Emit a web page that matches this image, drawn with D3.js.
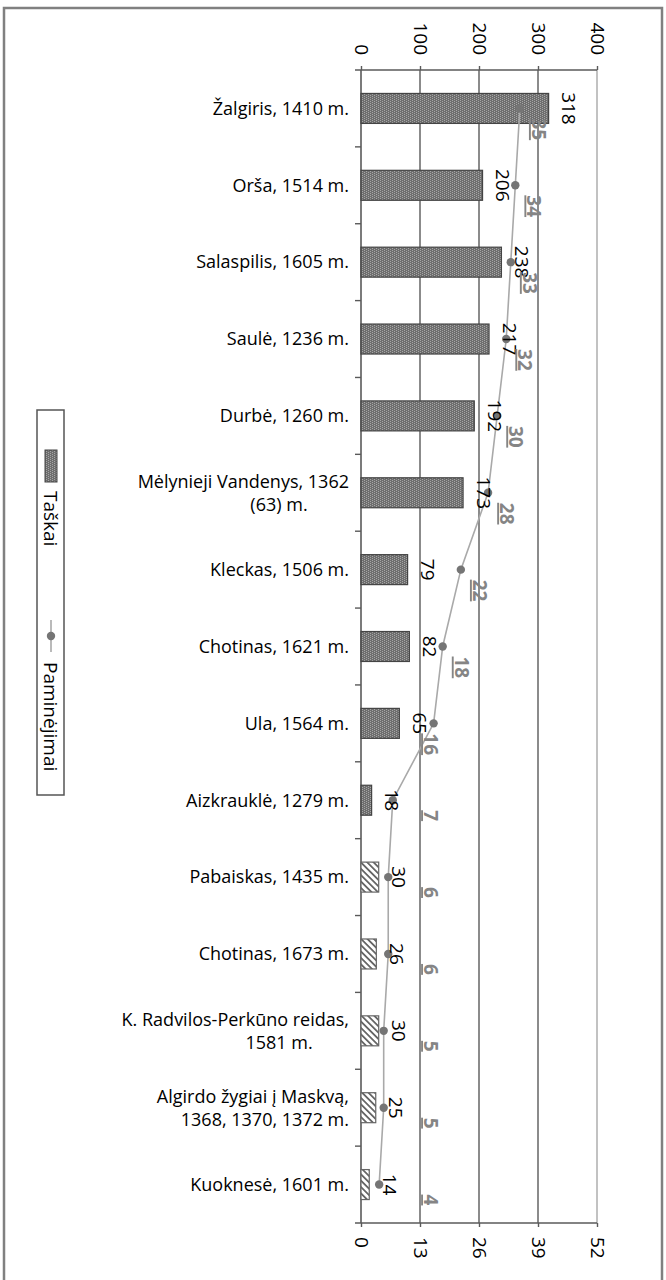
<!DOCTYPE html>
<html>
<head>
<meta charset="utf-8">
<script src="https://cdn.jsdelivr.net/npm/d3@7"></script>
<style>
    body { margin: 0; background: #fff; }
    text { font-family: 'Open Sans', sans-serif; }
</style>
</head>
<body>
<svg id="canvas"></svg>
<script>
let width = 666;
let height = 1280;

// data
const battles = [
    'Žalgiris, 1410 m.',
    'Orša, 1514 m.',
    'Salaspilis, 1605 m.',
    'Saulė, 1236 m.',
    'Durbė, 1260 m.',
    'Mėlynieji Vandenys, 1362|(63) m.',
    'Kleckas, 1506 m.',
    'Chotinas, 1621 m.',
    'Ula, 1564 m.',
    'Aizkrauklė, 1279 m.',
    'Pabaiskas, 1435 m.',
    'Chotinas, 1673 m.',
    'K. Radvilos-Perkūno reidas,|1581 m.',
    'Algirdo žygiai į Maskvą,|1368, 1370, 1372 m.',
    'Kuoknesė, 1601 m.',
];
const points = [318, 206, 238, 217, 192, 173, 79, 82, 65, 18, 30, 26, 30, 25, 14];
const mentions = [35, 34, 33, 32, 30, 28, 22, 18, 16, 7, 6, 6, 5, 5, 4];
// last five bars use the hatched fill
const hatched = [false, false, false, false, false, false, false, false, false, false, true, true, true, true, true];
const pointTicks = [0, 100, 200, 300, 400];
const mentionTicks = [0, 13, 26, 39, 52];
const legendNames = ['Taškai', 'Paminėjimai'];

let rows = battles.map((b, i) => ({
    name: b,
    points: points[i],
    mentions: mentions[i],
    hatched: hatched[i],
}));

let plotLeft = 361;
let plotRight = 597;
let plotTop = 70;
let plotBottom = 1223;

let canvas = d3.select('#canvas').attr('width', width).attr('height', height);

// patterns
let defs = canvas.append('defs');
let dots = defs
    .append('pattern')
    .attr('id', 'dots')
    .attr('patternUnits', 'userSpaceOnUse')
    .attr('width', 4)
    .attr('height', 2);
dots.append('rect').attr('width', 4).attr('height', 2).attr('fill', '#6e6e6e');
dots.append('rect').attr('x', 0).attr('y', 0).attr('width', 1).attr('height', 1).attr('fill', '#a6a6a6');
dots.append('rect').attr('x', 2).attr('y', 1).attr('width', 1).attr('height', 1).attr('fill', '#a6a6a6');

let hatch = defs
    .append('pattern')
    .attr('id', 'hatch')
    .attr('patternUnits', 'userSpaceOnUse')
    .attr('width', 4.5)
    .attr('height', 4.5)
    .attr('patternTransform', 'rotate(-45)');
hatch.append('rect').attr('width', 4.5).attr('height', 4.5).attr('fill', '#fff');
hatch.append('rect').attr('width', 1.8).attr('height', 4.5).attr('fill', '#666');

// outer frame
canvas
    .append('rect')
    .attr('x', 4)
    .attr('y', 8)
    .attr('width', 658)
    .attr('height', 1290)
    .attr('fill', 'none')
    .attr('stroke', '#808080')
    .attr('stroke-width', 2.5);

let xScale = d3.scaleLinear().domain([0, 400]).range([plotLeft, plotRight]);
let xLine = d3.scaleLinear().domain([0, 52]).range([plotLeft, plotRight]);
let yScale = d3
    .scaleBand()
    .domain(battles)
    .range([plotTop, plotBottom])
    .paddingInner(0.61)
    .paddingOuter(0.305);
let gap = (yScale.step() - yScale.bandwidth()) / 2;

// gridlines
canvas
    .append('g')
    .selectAll('line')
    .data(pointTicks.slice(1))
    .enter()
    .append('line')
    .attr('x1', (d) => xScale(d))
    .attr('x2', (d) => xScale(d))
    .attr('y1', plotTop)
    .attr('y2', plotBottom)
    .attr('stroke', (d) => (d === 400 ? '#a8a8a8' : '#5a5a5a'))
    .attr('stroke-width', 1.4);

// axes
let topAxis = d3.axisTop(xScale).tickValues(pointTicks).tickSize(4).tickSizeOuter(0).tickFormat(d3.format('d'));
let bottomAxis = d3.axisBottom(xLine).tickValues(mentionTicks).tickSize(4).tickSizeOuter(0).tickFormat(d3.format('d'));

let styleAxis = (g) => {
    g.select('.domain').remove();
    g.selectAll('.tick line').attr('stroke', '#5a5a5a').attr('stroke-width', 1.4);
    g.selectAll('.tick text')
        .attr('fill', '#000')
        .style('font-size', '19px')
        .attr('transform', 'rotate(90)')
        .attr('x', null)
        .attr('y', 0)
        .attr('dy', '0.36em');
};

let gTop = canvas.append('g').attr('transform', `translate(0, ${plotTop})`).call(topAxis).call(styleAxis);
gTop.selectAll('.tick text').attr('text-anchor', 'end').attr('x', -15);

let gBottom = canvas.append('g').attr('transform', `translate(0, ${plotBottom})`).call(bottomAxis).call(styleAxis);
gBottom.selectAll('.tick text').attr('text-anchor', 'start').attr('x', 14);

// axis lines
canvas
    .append('line')
    .attr('x1', plotLeft - 6)
    .attr('x2', plotRight)
    .attr('y1', plotTop)
    .attr('y2', plotTop)
    .attr('stroke', '#5a5a5a')
    .attr('stroke-width', 1.6);
canvas
    .append('line')
    .attr('x1', plotLeft - 6)
    .attr('x2', plotRight)
    .attr('y1', plotBottom)
    .attr('y2', plotBottom)
    .attr('stroke', '#5a5a5a')
    .attr('stroke-width', 1.6);
canvas
    .append('line')
    .attr('x1', plotLeft)
    .attr('x2', plotLeft)
    .attr('y1', plotTop)
    .attr('y2', plotBottom)
    .attr('stroke', '#5a5a5a')
    .attr('stroke-width', 1.6);

// category separators
canvas
    .append('g')
    .selectAll('line')
    .data(battles.slice(1))
    .enter()
    .append('line')
    .attr('x1', plotLeft - 6)
    .attr('x2', plotLeft)
    .attr('y1', (d) => yScale(d) - gap)
    .attr('y2', (d) => yScale(d) - gap)
    .attr('stroke', '#5a5a5a')
    .attr('stroke-width', 1.4);

// category labels
let catLabels = canvas
    .append('g')
    .selectAll('text')
    .data(rows)
    .enter()
    .append('text')
    .attr('fill', '#000')
    .style('font-size', '18px');

catLabels.each(function (d) {
    let parts = d.name.split('|');
    let cy = yScale(d.name) + yScale.bandwidth() / 2;
    let el = d3.select(this);
    if (parts.length === 1) {
        el.append('tspan').attr('x', 349).attr('y', cy).attr('dy', '0.35em').attr('text-anchor', 'end').text(parts[0]);
    } else {
        el.append('tspan').attr('x', 349).attr('y', cy - 11.5).attr('dy', '0.35em').attr('text-anchor', 'end').text(parts[0]);
        let second = el
            .append('tspan')
            .attr('x', 279)
            .attr('y', cy + 11.5)
            .attr('dy', '0.35em')
            .attr('text-anchor', 'middle')
            .text(parts[1]);
        let w = second.node().getComputedTextLength();
        second.attr('x', Math.min(279, 349 - w / 2));
    }
});

// bars
canvas
    .append('g')
    .selectAll('rect')
    .data(rows)
    .enter()
    .append('rect')
    .attr('x', xScale(0))
    .attr('y', (d) => yScale(d.name))
    .attr('width', (d) => xScale(d.points) - xScale(0))
    .attr('height', yScale.bandwidth())
    .attr('fill', (d) => (d.hatched ? 'url(#hatch)' : 'url(#dots)'))
    .attr('stroke', (d) => (d.hatched ? '#666' : '#444'))
    .attr('stroke-width', 1.2);

// mentions line
let line = d3
    .line()
    .x((d) => xLine(d.mentions))
    .y((d) => yScale(d.name) + yScale.bandwidth() / 2);

canvas
    .append('path')
    .datum(rows)
    .attr('d', line)
    .attr('fill', 'none')
    .attr('stroke', '#a9a9a9')
    .attr('stroke-width', 1.6);

canvas
    .append('g')
    .selectAll('circle')
    .data(rows)
    .enter()
    .append('circle')
    .attr('cx', (d) => xLine(d.mentions))
    .attr('cy', (d) => yScale(d.name) + yScale.bandwidth() / 2)
    .attr('r', 4.2)
    .attr('fill', '#757575');

// point labels
canvas
    .append('g')
    .selectAll('text')
    .data(rows)
    .enter()
    .append('text')
    .attr('transform', (d) => `translate(${xScale(d.points) + 13.5}, ${yScale(d.name) + yScale.bandwidth() / 2}) rotate(90)`)
    .attr('text-anchor', 'middle')
    .attr('fill', '#000')
    .style('font-size', '19px')
    .text((d) => d.points);

// mention labels
canvas
    .append('g')
    .selectAll('text')
    .data(rows)
    .enter()
    .append('text')
    .attr('transform', (d) => {
        let x = d.mentions > 16 ? xLine(d.mentions) + 12 : xLine(13) + 4;
        let y = yScale(d.name) + yScale.bandwidth() / 2 + 10;
        return `translate(${x}, ${y}) rotate(90)`;
    })
    .attr('text-anchor', 'start')
    .attr('fill', '#858585')
    .style('font-size', '19px')
    .style('font-weight', 'bold')
    .style('text-decoration', 'underline')
    .text((d) => d.mentions);

// legend
let legend = canvas.append('g');
legend
    .append('rect')
    .attr('x', 37)
    .attr('y', 410)
    .attr('width', 27)
    .attr('height', 385)
    .attr('fill', '#fff')
    .attr('stroke', '#555')
    .attr('stroke-width', 1.5);
legend
    .append('rect')
    .attr('x', 45)
    .attr('y', 450)
    .attr('width', 12)
    .attr('height', 32)
    .attr('fill', 'url(#dots)')
    .attr('stroke', '#444')
    .attr('stroke-width', 1);
legend
    .append('line')
    .attr('x1', 51)
    .attr('x2', 51)
    .attr('y1', 620)
    .attr('y2', 652)
    .attr('stroke', '#a9a9a9')
    .attr('stroke-width', 1.6);
legend.append('circle').attr('cx', 51).attr('cy', 636).attr('r', 4.2).attr('fill', '#757575');

legend
    .selectAll('text')
    .data(legendNames)
    .enter()
    .append('text')
    .attr('transform', (d, i) => `translate(44, ${i === 0 ? 491 : 662}) rotate(90)`)
    .attr('fill', '#000')
    .style('font-size', '19px')
    .text((d) => d);
</script>
</body>
</html>
